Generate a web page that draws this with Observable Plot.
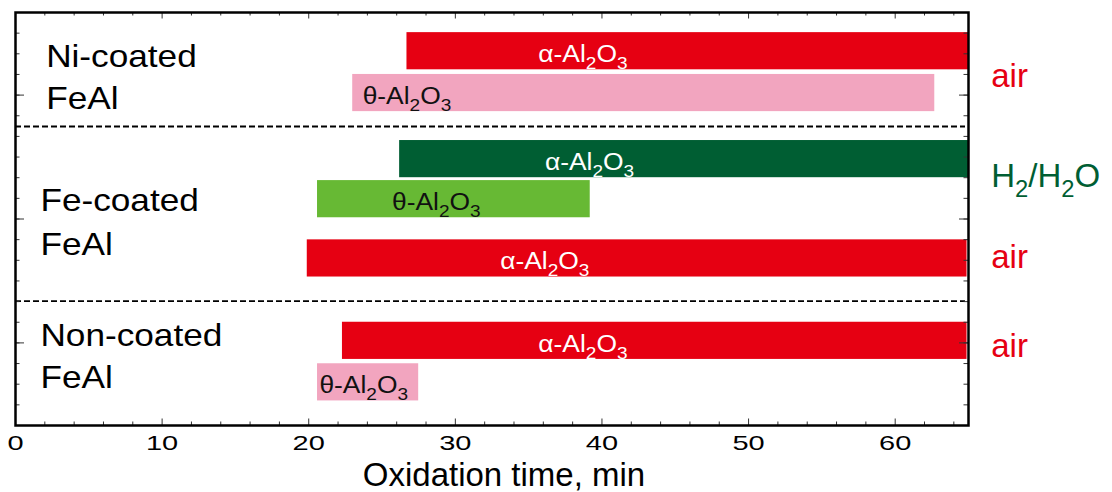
<!DOCTYPE html>
<html><head><meta charset="utf-8">
<script src="https://cdn.jsdelivr.net/npm/d3@7"></script>
<script src="https://cdn.jsdelivr.net/npm/@observablehq/plot@0.6"></script>
<style>body{margin:0;background:#fff} #chart svg{display:block}</style>
</head><body><div id="chart"></div>
<script>
// ---- data ----
const samples = ["Ni-coated", "Fe-coated", "Non-coated"];
const barSample = ["Ni-coated", "Ni-coated", "Fe-coated", "Fe-coated", "Fe-coated", "Non-coated", "Non-coated"];
const barPhase  = ["α-Al2O3", "θ-Al2O3", "α-Al2O3", "θ-Al2O3", "α-Al2O3", "α-Al2O3", "θ-Al2O3"];
const barAtm    = ["air", "air", "H2/H2O", "H2/H2O", "air", "air", "air"];
const barStart  = [26.7, 23.0, 26.2, 20.6, 19.9, 22.3, 20.6];
const barEnd    = [65.0, 62.7, 65.0, 39.2, 64.9, 64.9, 27.5];
const atmLabels = ["air", "H2/H2O", "air", "air"];
const xMajor = [0, 10, 20, 30, 40, 50, 60];
const xMinor = [2, 4, 6, 8, 12, 14, 16, 18, 22, 24, 26, 28, 32, 34, 36, 38, 42, 44, 46, 48, 52, 54, 56, 58, 62, 64];
const xTitle = "Oxidation time, min";

// ---- layout / style ----
const W = 1112, H = 492, mL = 15, mR = 144, mT = 12, mB = 67;
const fw = W - mL - mR, fh = H - mT - mB;
const laneCenter = [1.875, 3.9, 7.1, 9.04, 11.91, 15.9, 17.91];
const laneHalf = 0.9;
const labelX = [38.7, 26.7, 39.15, 28.7, 36.1, 38.7, 23.75];
const sepY = [5.52, 13.98];
const atmY = [3.12, 7.96, 11.84, 16.19];
const atmX = 66.55;
const sampleX = [2.09, 1.7, 1.7];
const sampleY = [[2.15, 4.2], [9.14, 11.23], [15.63, 17.67]];
const yTicks = d3.range(1, 20);
const yMajor = [4, 10, 16];
const RED = "#E60012", PINK = "#F2A5BF", DKGREEN = "#005E33", LTGREEN = "#67B934";
function barColor(i) {
  const a = barPhase[i].startsWith("α");
  if (barAtm[i] === "air") return a ? RED : PINK;
  return a ? DKGREEN : LTGREEN;
}

const bars = barStart.map((s, i) => ({
  sample: barSample[i], phase: barPhase[i], atm: barAtm[i], start: s, end: barEnd[i],
  lane: laneCenter[i], lx: labelX[i], fill: barColor(i),
  tcolor: barPhase[i].startsWith("α") ? "white" : "#111"
}));
const sampleLines = [];
samples.forEach((s, i) => {
  [s, "FeAl"].forEach((p, j) => sampleLines.push({text: p, x: sampleX[i], y: sampleY[i][j]}));
});
const atm = atmLabels.map((t, i) => ({text: t, y: atmY[i], color: t === "air" ? RED : DKGREEN}));

const plot = Plot.plot({
  width: W, height: H,
  marginLeft: mL, marginRight: mR, marginTop: mT, marginBottom: mB,
  style: {fontFamily: "'Liberation Sans', Arial, sans-serif", background: "white", color: "black"},
  x: {domain: [0, 65], axis: null},
  y: {domain: [0, 20], reverse: true, axis: null},
  color: {type: "identity"},
  marks: [
    Plot.rectX(bars, {x1: "start", x2: "end", y1: d => d.lane - laneHalf, y2: d => d.lane + laneHalf, fill: "fill"}),
    Plot.ruleY(sepY, {stroke: "black", strokeWidth: 1.8, strokeDasharray: "6,3", insetRight: 3}),
    // ticks
    Plot.ruleX(xMinor, {stroke: "#333", strokeWidth: 1, insetTop: fh - 3.5}),
    Plot.ruleX(xMajor, {stroke: "#333", strokeWidth: 1, insetTop: fh - 6.5}),
    Plot.ruleX(xMinor, {stroke: "#333", strokeWidth: 1, insetBottom: fh - 3.5}),
    Plot.ruleX(xMajor, {stroke: "#333", strokeWidth: 1, insetBottom: fh - 6.5}),
    Plot.ruleY(yTicks, {stroke: "#333", strokeWidth: 1, insetRight: fw - 4.5}),
    Plot.ruleY(yMajor, {stroke: "#333", strokeWidth: 1, insetRight: fw - 9}),
    Plot.ruleY(yTicks, {stroke: "#333", strokeWidth: 1, insetLeft: fw - 4.5}),
    Plot.ruleY(yMajor, {stroke: "#333", strokeWidth: 1, insetLeft: fw - 9}),
    // bar labels
    Plot.text(bars, {x: "lx", y: "lane", text: "phase", fill: "tcolor", fontSize: 24, lineAnchor: "middle", dy: 3}),
    // sample labels
    Plot.text(sampleLines, {x: "x", y: "y", text: "text", textAnchor: "start", lineAnchor: "middle", fontSize: 32, fill: "black"}),
    // atmosphere labels
    Plot.text(atm, {x: () => atmX, y: "y", text: "text", fill: "color", textAnchor: "start", lineAnchor: "middle", fontSize: 33}),
    // x tick labels and title
    Plot.text(xMajor, {x: d => d, text: d => String(d), frameAnchor: "bottom", lineAnchor: "top", dy: 10, fontSize: 20, fill: "black"}),
    Plot.text([xTitle], {text: d => d, frameAnchor: "bottom", dx: 12, dy: 50, lineAnchor: "middle", fontSize: 33, fill: "black"}),
    Plot.frame({stroke: "black", strokeWidth: 2.5})
  ]
});
document.getElementById("chart").appendChild(plot);

// ---- post-processing: subscripts and horizontal stretch ----
const NS = "http://www.w3.org/2000/svg";
function chem(t, fs) {
  const s = t.textContent;
  while (t.firstChild) t.removeChild(t.firstChild);
  const parts = s.match(/\d+|\D+/g) || [];
  let lowered = false;
  parts.forEach(p => {
    const sp = document.createElementNS(NS, "tspan");
    sp.textContent = p;
    if (/\d/.test(p)) {
      sp.setAttribute("font-size", (fs * 0.72).toFixed(1));
      if (!lowered) sp.setAttribute("dy", (fs * 0.3).toFixed(1));
      lowered = true;
    } else if (lowered) {
      sp.setAttribute("dy", (-fs * 0.3).toFixed(1));
      lowered = false;
    }
    t.appendChild(sp);
  });
}
function stretch(t, sx) {
  const tr = t.getAttribute("transform");
  if (tr) t.setAttribute("transform", tr + ` scale(${sx},1)`);
  else {
    const x = parseFloat(t.getAttribute("x")) || 0;
    t.setAttribute("transform", `translate(${x},0) scale(${sx},1) translate(${-x},0)`);
  }
}
const phaseSet = new Set(barPhase);
const sampleSet = new Set([...samples, "FeAl"]);
const tickSet = new Set(xMajor.map(String));
plot.querySelectorAll("text").forEach(t => {
  const s = t.textContent;
  if (phaseSet.has(s)) { chem(t, 24); stretch(t, 1.1); }
  else if (s === "H2/H2O") chem(t, 33);
  else if (sampleSet.has(s)) stretch(t, 1.1);
  else if (tickSet.has(s)) stretch(t, 1.45);
});
</script>
</body></html>
